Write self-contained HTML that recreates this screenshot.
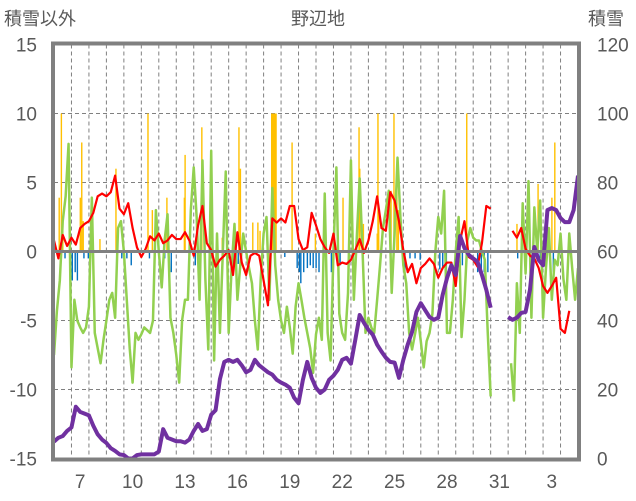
<!DOCTYPE html>
<html><head><meta charset="utf-8"><style>
html,body{margin:0;padding:0;background:#fff;}
svg{display:block;}
text{font-family:"Liberation Sans","Noto Sans CJK JP",sans-serif;fill:#595959;}
</style></head><body>
<svg id="chart" width="636" height="501" viewBox="0 0 636 501" xmlns="http://www.w3.org/2000/svg">
<g id="grid"></g>
<g id="bars"></g>
<g id="lines"></g>
<g id="axes"></g>
<text x="318" y="25" font-size="18" text-anchor="middle">野辺地</text>
<text x="4" y="25" font-size="18">積雪以外</text>
<text x="588" y="25" font-size="18">積雪</text>
</svg>
<script>
// Red temperature series (6-hour steps, °C)
const redValues = [0.8,-0.5,1.2,0.4,1,0.5,1.7,2,2.2,2.8,4,4.2,4,4.3,5.5,3.1,2.7,3.5,1.7,0.3,-0.4,0.2,1.1,0.8,1.3,0.6,0.8,1.2,0.9,0.9,1.4,0.8,-0.3,1.9,3.3,0.6,0.1,-1.1,-0.6,-0.3,0.1,-1.7,1.4,-0.8,-1.7,-0.3,-0.1,-0.3,-2.1,-3.9,2.4,2.1,2.4,2.1,3.3,3.3,0.9,0.1,0.3,2.8,1.9,0.9,0.3,-0.1,1.3,-1,-0.8,-0.9,-0.6,0.1,0.9,-0.1,0.8,2.2,4,1.7,1.5,4.3,3.7,2.2,0.1,-1.5,-0.9,-2.3,-1.2,-0.9,-0.5,-0.9,-1.9,-1.2,-0.8,-0.8,-2.5,0.8,2.2,-0.4,-0.6,-1.1,0.6,3.3,3.1,null,null,null,null,1.5,1,1.7,0.2,-0.3,-0.5,-1.2,-2.5,-3,-2.5,-1.9,-5.6,-5.9,-4.3,null,null];
// Green series (4-hour steps)
const greenValues = [-7.5,-4.3,-2.1,2.2,4,7.8,-8.4,-3.5,-5,-5.5,-5.9,-5.5,-4,3.9,-5.9,-7,-8.1,-6.4,-5,-3.5,-3,-4.8,1.7,2.2,0,-3.5,-7,-9.5,-5.9,-6.4,-6,-5.5,-5.7,-5.9,-5,3,0,-2.6,0.8,2.7,-4.8,-5.9,-7.5,-9.5,-5,-3.5,-3.5,3,6.1,2.5,-3.5,6.6,-2,-7.1,7.3,-7.9,1.3,-5.9,0,5.8,-5.9,-1.2,2,-3.5,-1,1.3,0,-1.2,-2.3,-5,-7.1,-2,1.3,2.5,-3.5,4.6,-1,-3.5,-5,-5.9,-4,-5.5,-7.4,-4,-2.3,-3.5,-4.8,-5.9,-7,-8.8,-6,-4.8,-6.4,4.2,-5.9,-7.9,0,6.1,-4.5,-5.9,-6.4,-3,6.6,-3.5,1,5.3,0,-5.9,-4.8,-5.5,-5.9,-3.5,-1,1.7,3,4.4,-3,1.3,6.8,2.5,-1,-2.3,-5.9,-7.1,-6,-4.8,-6.5,-8.4,-6.5,-5.9,-4.5,0,2.5,1.3,4.4,-5.9,-5.9,-3.5,0,2.5,-6.2,-3.5,0.8,1.7,1,0.8,0.8,0,-0.6,-5.9,-10.5,null,null,null,null,null,null,-8.1,-10.8,-2.3,-5.9,3.5,-1.6,5.1,-4.8,3.2,0,3.7,-4.8,-1.2,1.7,-3.5,-0.6,-1,1.3,-2,-3.5,1.3,-1.2,-3.5,-1.2];
// Snow depth (6-hour steps, cm, right axis)
const snowValues = [4.9,6,6.5,8,9,15,13.5,13,12.5,9.5,7,5.5,4.5,3,2.2,1.2,1,0,0,1,1.2,1.2,1.2,1.2,2,8.5,6,5.5,5,5,4.6,5.5,8,10,8,8.5,12.7,14,23,28,28.6,28,28.6,27,25,25.7,28.6,27,26,25,24.3,22.8,22,21.4,20.5,17.6,16,22.8,28,23.4,20.5,19,20,22.8,24,25.7,28.6,29.2,27.5,34.4,41.6,39.3,37.3,35.9,33,31,29.2,28,27.8,23.4,28.6,33,36.7,42.5,45,43,41,40.2,40.8,47.4,52.3,56,53.2,64.5,61,59,58,57,53.2,48.9,43.7,null,null,null,41,40.2,40.8,42.2,42.5,48.9,61.3,57.5,56,72,72.6,72,69.7,68.5,68.5,72,82];
// Hourly bars: hour from start, value
const posBarHours = [7,10,12,36,38,40,63,85,129,135,155,179,180,203,231,254,256,273,280,283,299,300,301,302,303,304,305,327,359,397,419,420,425,444,445,446,463,467,471,473,567,636,665,684,688];
const posBarValues = [3.9,10,2,3.9,7.9,2.2,0.9,6,10,3,3.9,3.9,7,9,1,9,6,2.1,2.1,1.5,10,10,10,10,10,10,10,7.9,1.3,3.9,9,6,2,1.3,10,3,4.4,10,6,3,10,2,4.9,3.9,7.9];
const negBarHours = [15,22,25,29,32,41,47,93,100,106,131,152,161,194,214,246,253,317,334,337,339,343,348,352,356,360,364,381,393,482,489,496,503,530,534,539,561,582,587,591,596,637,668,686];
const negBarValues = [-0.5,-2.1,-2.1,-1.5,-2.1,-0.5,-0.5,-0.5,-0.5,-1,-0.5,-0.5,-1.5,-1,-1.3,-0.9,-0.9,-0.4,-1.2,-1.5,-2.3,-1.5,-1.2,-1,-1.2,-1.2,-1.5,-1.5,-1,-2,-0.5,-0.5,-0.6,-1.3,-1.3,-1.3,-1,-1.5,-1.5,-1.5,-1.5,-0.5,-0.5,-1.5];
const leftTicks = [15,10,5,0,-5,-10,-15];
const rightTicks = [120,100,80,60,40,20,0];
const dayLabels = ["7","10","13","16","19","22","25","28","31","3"];
const dayLabelOffsets = [1,4,7,10,13,16,19,22,25,28];

const X0=54, X1=578, Y0=44.5, Y1=458.5, DAYS=30;
const xT = t => X0 + t*(X1-X0)/DAYS;
const yL = v => Y1 - (v+15)*(Y1-Y0)/30;
const yR = s => Y1 - s*(Y1-Y0)/120;
const NS="http://www.w3.org/2000/svg";
function mk(tag, parent){const e=document.createElementNS(NS,tag);parent.appendChild(e);return e;}
const grid=document.getElementById('grid'), bars=document.getElementById('bars'), lines=document.getElementById('lines'), axes=document.getElementById('axes');

for(const v of [10,5,-5,-10]){
  const l=mk('line',grid);
  
  
  l.setAttribute('x1',X0);l.setAttribute('x2',X1);l.setAttribute('y1',yL(v));l.setAttribute('y2',yL(v));
  l.setAttribute('stroke','#808080');l.setAttribute('stroke-width','1');l.setAttribute('stroke-dasharray','4,3');
}
for(let d=1; d<DAYS; d++){
  const l=mk('line',grid);
  
  
  l.setAttribute('x1',xT(d));l.setAttribute('x2',xT(d));l.setAttribute('y1',Y0);l.setAttribute('y2',Y1);
  l.setAttribute('stroke','#808080');l.setAttribute('stroke-width','1');l.setAttribute('stroke-dasharray','4,3');
}
function drawBars(hours, vals, color, name){
  hours.forEach((h,i)=>{
    const r=mk('rect',bars);
    
    
    const v=Math.max(-15,Math.min(10,vals[i]));
    const y0=yL(0), y1=yL(v);
    r.setAttribute('x', xT(h/24)-0.6); r.setAttribute('width', 1.4);
    r.setAttribute('y', Math.min(y0,y1)); r.setAttribute('height', Math.abs(y1-y0));
    r.setAttribute('fill', color);
  });
}
drawBars(posBarHours,posBarValues,'#FFC000','positive-bar');
drawBars(negBarHours,negBarValues,'#0070C0','negative-bar');

function pathFor(vals, step, yf){
  let d='', pen=false;
  vals.forEach((v,i)=>{
    if(v===null){pen=false;return;}
    d += (pen?'L':'M') + xT(i*step).toFixed(2) + ' ' + yf(v).toFixed(2) + ' ';
    pen=true;
  });
  return d;
}
function drawLine(vals, step, yf, color, w, name){
  const p=mk('path',lines);
  
  
  p.setAttribute('d', pathFor(vals, step, yf));
  p.setAttribute('fill','none');p.setAttribute('stroke',color);p.setAttribute('stroke-width',w);
  p.setAttribute('stroke-linejoin','round');
}
drawLine(greenValues, 1/6, yL, '#92D050', 2.5, 'green-series-line');
drawLine(redValues, 0.25, yL, '#FF0000', 2.2, 'temperature-line');
drawLine(snowValues, 0.25, yR, '#7030A0', 4, 'snow-depth-line');

const z=mk('line',axes);


z.setAttribute('x1',X0);z.setAttribute('x2',X1);z.setAttribute('y1',yL(0));z.setAttribute('y2',yL(0));
z.setAttribute('stroke','#808080');z.setAttribute('stroke-width','3');

const fr=mk('rect',axes);


fr.setAttribute('x',X0-1);fr.setAttribute('y',Y0-1);fr.setAttribute('width',X1-X0+2);fr.setAttribute('height',Y1-Y0+2);
fr.setAttribute('fill','none');fr.setAttribute('stroke','#808080');fr.setAttribute('stroke-width','4');

leftTicks.forEach(v=>{
  const t=mk('text',axes);
  
  
  t.setAttribute('x',37);t.setAttribute('y',yL(v)+7);t.setAttribute('font-size','19');t.setAttribute('text-anchor','end');
  t.textContent=String(v);
});
rightTicks.forEach(v=>{
  const t=mk('text',axes);
  
  
  t.setAttribute('x',597);t.setAttribute('y',yR(v)+7);t.setAttribute('font-size','19');
  t.textContent=String(v);
});
dayLabels.forEach((s,i)=>{
  const t=mk('text',axes);
  
  
  t.setAttribute('x',xT(dayLabelOffsets[i]+0.5));t.setAttribute('y',488);t.setAttribute('font-size','19');t.setAttribute('text-anchor','middle');
  t.textContent=s;
});
</script>
</body></html>
